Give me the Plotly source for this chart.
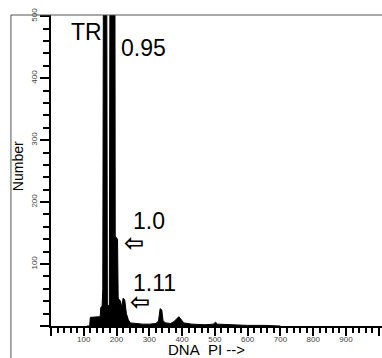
import plotly.graph_objects as go

# DNA PI channel values and event counts
dna_pi = [110, 118, 120, 150, 152, 156, 158, 160, 170, 172, 178, 180, 195, 196, 203, 205, 212,
          216, 220, 225, 230, 236, 242, 260, 280, 300, 320, 328, 333, 338, 342, 350, 365, 375,
          385, 390, 395, 405, 430, 470, 495, 502, 508, 540, 600, 650, 700]
counts = [0, 0, 14, 15, 30, 32, 60, 600, 600, 35, 32, 600, 600, 145, 140, 45, 40,
          30, 45, 42, 20, 10, 5, 4, 3, 3, 4, 8, 28, 26, 8, 5, 4, 7,
          12, 15, 12, 5, 3, 2, 3, 6, 3, 2, 1, 1, 0]

x_ticks = [0, 100, 200, 300, 400, 500, 600, 700, 800, 900, 1000]
x_ticktext = ["", "100", "200", "300", "400", "500", "600", "700", "800", "900", "1000"]
y_ticks = [0, 100, 200, 300, 400, 500]
y_ticktext = ["", "100", "200", "300", "400", "500"]

peak_labels = ["TR", "0.95", "1.0", "1.11"]
peak_label_x = [107, 281, 299, 317]
peak_label_y = [475, 449, 169, 70]
arrow_x = [253, 272]
arrow_y = [134, 39]

FONT = "Liberation Sans, Arial, sans-serif"

fig = go.Figure()
fig.add_trace(go.Scatter(
    x=dna_pi, y=counts, mode="lines",
    line=dict(color="black", width=1),
    fill="tozeroy", fillcolor="black",
    hoverinfo="skip", showlegend=False,
))

axis_common = dict(
    showline=True, linewidth=2, linecolor="black",
    ticks="outside", tickwidth=2, tickcolor="black",
    showgrid=False, zeroline=False, automargin=False,
    tickfont=dict(family=FONT, size=8, color="#444"),
)

fig.update_xaxes(
    range=[0, 1010], tickmode="array", tickvals=x_ticks, ticktext=x_ticktext,
    ticklen=8, ticklabelstandoff=-4,
    minor=dict(tickmode="linear", tick0=0, dtick=20, ticks="outside", ticklen=5,
               tickwidth=2, tickcolor="black"),
    **axis_common,
)
fig.update_yaxes(
    range=[0, 502], tickmode="array", tickvals=y_ticks, ticktext=y_ticktext,
    ticklen=9, tickangle=-90,
    minor=dict(tickmode="linear", tick0=0, dtick=20, ticks="outside", ticklen=6,
               tickwidth=2, tickcolor="black"),
    **axis_common,
)

annotations = []
for t, x, y in zip(peak_labels, peak_label_x, peak_label_y):
    annotations.append(dict(x=x, y=y, xref="x", yref="y", text=t, showarrow=False,
                            xanchor="center", yanchor="middle",
                            font=dict(family=FONT, size=23, color="black")))
for x, y in zip(arrow_x, arrow_y):
    annotations.append(dict(x=x, y=y, xref="x", yref="y", text="<b>\u21e6</b>", showarrow=False,
                            xanchor="center", yanchor="middle",
                            font=dict(family="DejaVu Sans", size=24, color="black")))
annotations.append(dict(x=-0.0997, y=0.514, xref="paper", yref="paper", text="Number",
                        textangle=-90, showarrow=False, xanchor="center", yanchor="middle",
                        font=dict(family=FONT, size=14, color="black")))
annotations.append(dict(x=0.471, y=-0.076, xref="paper", yref="paper",
                        text="DNA\u00a0 PI -->", showarrow=False,
                        xanchor="center", yanchor="middle",
                        font=dict(family=FONT, size=15, color="black")))

shapes = [
    dict(type="line", xref="paper", yref="paper", x0=-0.121, x1=-0.121, y0=1.0, y1=-0.105,
         line=dict(color="#555", width=1)),
    dict(type="line", xref="paper", yref="paper", x0=-0.121, x1=1.0, y0=1.0, y1=1.0,
         line=dict(color="#555", width=1)),
]

fig.update_layout(
    width=382, height=358,
    margin=dict(l=51, r=0, t=15, b=32),
    paper_bgcolor="white", plot_bgcolor="white",
    annotations=annotations, shapes=shapes,
    showlegend=False,
)

fig.write_html("out.html", config={"displayModeBar": False},
               post_script="document.body.style.margin='0';")
